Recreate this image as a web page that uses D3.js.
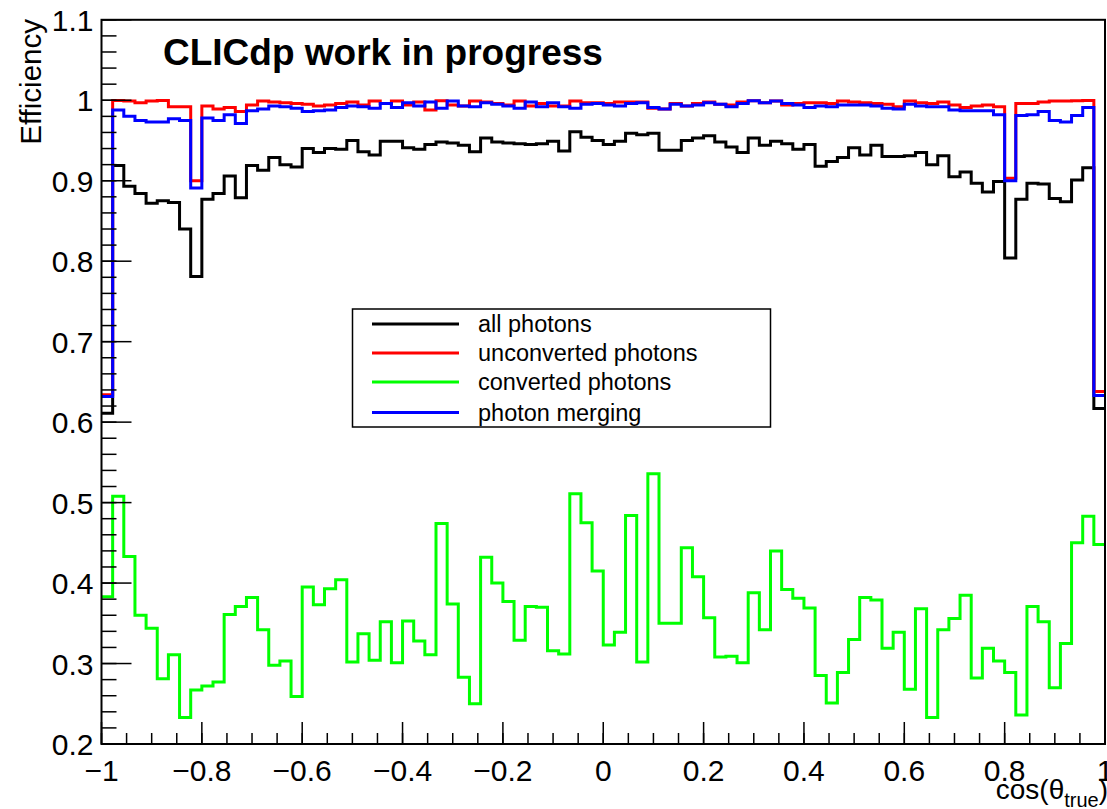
<!DOCTYPE html>
<html><head><meta charset="utf-8">
<script src="https://cdn.jsdelivr.net/npm/d3@7"></script>
<style>body{margin:0;background:#fff}text{font-family:"Liberation Sans",Arial,Helvetica,sans-serif}</style>
</head><body>
<svg id="c" width="1107" height="809"></svg>
<script>
// ---- data ----
const nBins = 90;
const xMin = -1, xMax = 1;
const allPhotons = [0.611,0.919,0.893,0.884,0.872,0.875,0.873,0.840,0.781,0.877,
0.884,0.906,0.879,0.919,0.913,0.929,0.920,0.917,0.940,0.935,
0.940,0.939,0.950,0.936,0.932,0.949,0.949,0.941,0.939,0.945,
0.948,0.947,0.944,0.936,0.953,0.948,0.947,0.946,0.945,0.946,
0.949,0.937,0.961,0.954,0.950,0.945,0.949,0.959,0.957,0.959,
0.938,0.938,0.950,0.953,0.956,0.948,0.942,0.935,0.953,0.944,
0.949,0.946,0.939,0.945,0.918,0.924,0.929,0.941,0.932,0.944,
0.930,0.930,0.931,0.935,0.920,0.931,0.905,0.911,0.897,0.886,
0.899,0.804,0.877,0.897,0.896,0.878,0.874,0.901,0.916,0.617];
const unconverted = [0.634,0.9998,0.999,0.997,0.999,0.9998,0.992,0.992,0.900,0.993,
0.989,0.991,0.986,0.994,0.999,0.998,0.997,0.996,0.995,0.993,
0.994,0.996,0.998,0.994,0.999,0.996,0.999,0.994,0.998,0.988,
0.9995,0.994,0.993,0.999,0.998,0.996,0.994,0.999,0.993,0.996,
0.993,0.993,0.999,0.997,0.997,0.996,0.998,0.998,0.998,0.990,
0.989,0.996,0.993,0.996,0.998,0.995,0.994,0.998,0.9995,0.997,
0.999,0.994,0.996,0.997,0.997,0.996,0.999,0.998,0.997,0.996,
0.995,0.992,0.999,0.997,0.996,0.998,0.994,0.991,0.993,0.994,
0.992,0.903,0.996,0.996,0.998,0.999,0.999,0.9995,0.9998,0.638];
const converted = [0.383,0.508,0.433,0.360,0.344,0.281,0.311,0.233,0.267,0.272,
0.277,0.361,0.371,0.382,0.342,0.298,0.303,0.259,0.395,0.373,
0.393,0.404,0.302,0.337,0.304,0.352,0.301,0.353,0.328,0.311,
0.474,0.374,0.283,0.250,0.432,0.400,0.377,0.329,0.371,0.370,
0.316,0.312,0.511,0.475,0.415,0.323,0.339,0.484,0.302,0.536,
0.350,0.350,0.444,0.408,0.357,0.308,0.309,0.301,0.388,0.342,
0.440,0.392,0.381,0.369,0.285,0.251,0.289,0.330,0.382,0.379,
0.319,0.339,0.268,0.368,0.233,0.342,0.356,0.385,0.282,0.319,
0.303,0.289,0.236,0.371,0.352,0.270,0.325,0.450,0.483,0.448];
const merging = [0.632,0.988,0.980,0.975,0.973,0.973,0.977,0.975,0.891,0.978,
0.975,0.982,0.971,0.987,0.989,0.993,0.992,0.990,0.986,0.987,
0.988,0.991,0.993,0.992,0.990,0.996,0.991,0.997,0.993,0.998,
0.990,0.999,0.993,0.992,0.997,0.995,0.993,0.990,0.998,0.992,
0.997,0.992,0.990,0.995,0.996,0.994,0.993,0.996,0.997,0.991,
0.989,0.995,0.993,0.994,0.997,0.995,0.992,0.996,0.9995,0.997,
0.999,0.996,0.994,0.991,0.993,0.992,0.994,0.994,0.994,0.993,
0.990,0.989,0.995,0.993,0.992,0.992,0.988,0.987,0.987,0.987,
0.982,0.900,0.981,0.982,0.986,0.975,0.973,0.981,0.991,0.633];
const xTicks = [-1,-0.8,-0.6,-0.4,-0.2,0,0.2,0.4,0.6,0.8,1];
const xTickLabels = ["\u22121","\u22120.8","\u22120.6","\u22120.4","\u22120.2","0","0.2","0.4","0.6","0.8","1"];
const yTicks = [0.2,0.3,0.4,0.5,0.6,0.7,0.8,0.9,1.0,1.1];
const yTickLabels = ["0.2","0.3","0.4","0.5","0.6","0.7","0.8","0.9","1","1.1"];
const seriesNames = ["all photons","unconverted photons","converted photons","photon merging"];
const seriesColors = ["#000000","#ff0000","#00ff00","#0000ff"];
const seriesData = [allPhotons, unconverted, converted, merging];

// ---- drawing ----
const svg = d3.select("#c");
const L = 101.5, R = 1105, T = 19.8, B = 744;
const x = d3.scaleLinear().domain([xMin, xMax]).range([L, R]);
const y = d3.scaleLinear().domain([0.2, 1.1]).range([B, T]);
const edges = d3.range(nBins + 1).map(i => xMin + (xMax - xMin) * i / nBins);

const plot = svg.append("g");
const line = d3.line().x(d => x(d[0])).y(d => y(d[1])).curve(d3.curveStepAfter);
seriesData.forEach((vals, k) => {
  const pts = vals.map((v, i) => [edges[i], v]);
  pts.push([edges[nBins], vals[nBins - 1]]);
  plot.append("path").attr("d", line(pts)).attr("fill", "none")
    .attr("stroke", seriesColors[k]).attr("stroke-width", 3).attr("stroke-linejoin", "miter");
});

// frame
svg.append("rect").attr("x", L).attr("y", T).attr("width", R - L).attr("height", B - T)
  .attr("fill", "none").attr("stroke", "#000").attr("stroke-width", 2);

// y axis ticks
const yMinor = d3.range(0.2, 1.1001, 0.02);
const gy = svg.append("g");
gy.selectAll("line.mn").data(yMinor).join("line")
  .attr("x1", L).attr("x2", L + 15).attr("y1", d => y(d)).attr("y2", d => y(d))
  .attr("stroke", "#000").attr("stroke-width", 1.5);
gy.selectAll("line.mj").data(yTicks).join("line")
  .attr("x1", L).attr("x2", L + 30).attr("y1", d => y(d)).attr("y2", d => y(d))
  .attr("stroke", "#000").attr("stroke-width", 1.5);
gy.selectAll("text").data(yTicks).join("text")
  .attr("x", L - 8).attr("y", d => y(d) + 11).attr("text-anchor", "end")
  .attr("font-size", 30).text((d, i) => yTickLabels[i]);

// x axis ticks
const xMinor = d3.range(-1, 1.0001, 0.05);
const gx = svg.append("g");
gx.selectAll("line.mn").data(xMinor).join("line")
  .attr("x1", d => x(d)).attr("x2", d => x(d)).attr("y1", B).attr("y2", B - 11)
  .attr("stroke", "#000").attr("stroke-width", 1.5);
gx.selectAll("line.mj").data(xTicks).join("line")
  .attr("x1", d => x(d)).attr("x2", d => x(d)).attr("y1", B).attr("y2", B - 22)
  .attr("stroke", "#000").attr("stroke-width", 1.5);
gx.selectAll("text").data(xTicks).join("text")
  .attr("x", d => x(d)).attr("y", 781).attr("text-anchor", "middle")
  .attr("font-size", 30).text((d, i) => xTickLabels[i]);

// axis titles
svg.append("text").attr("transform", "translate(41,19) rotate(-90)")
  .attr("text-anchor", "end").attr("font-size", 29.5).text("Efficiency");
const xt = svg.append("text").attr("x", 1108).attr("y", 799).attr("text-anchor", "end").attr("font-size", 28);
xt.append("tspan").text("cos(\u03b8");
xt.append("tspan").attr("font-size", 20).attr("dy", 8).text("true");
xt.append("tspan").attr("dy", -8).text(")");

// title
svg.append("text").attr("x", 163).attr("y", 65).attr("font-size", 37).attr("font-weight", "bold")
  .text("CLICdp work in progress");

// legend
const lg = svg.append("g");
lg.append("rect").attr("x", 352.5).attr("y", 309).attr("width", 418).attr("height", 118)
  .attr("fill", "#fff").attr("stroke", "#000").attr("stroke-width", 1.5);
const ly = [324, 353, 382, 412.5];
seriesNames.forEach((n, k) => {
  lg.append("line").attr("x1", 372).attr("x2", 459).attr("y1", ly[k]).attr("y2", ly[k])
    .attr("stroke", seriesColors[k]).attr("stroke-width", 3);
  lg.append("text").attr("x", 478).attr("y", ly[k] + 8).attr("font-size", 23.5).text(n);
});
</script>
</body></html>
